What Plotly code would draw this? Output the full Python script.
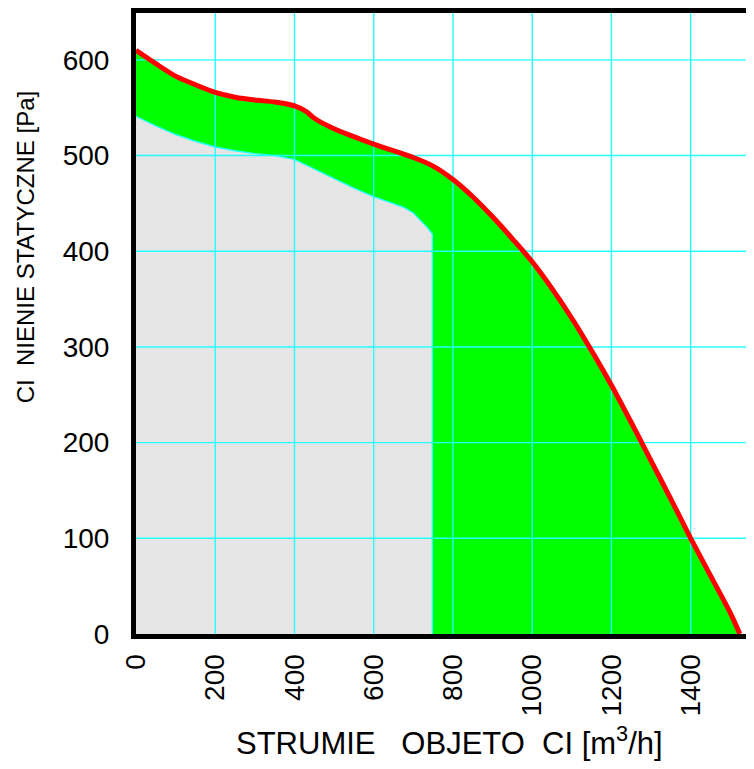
import plotly.graph_objects as go

# Upper curve (red) – maximum characteristic
flow_max = [0, 50, 100, 150, 200, 250, 300, 350, 400, 430, 450, 500, 600, 700, 750, 800, 850,
            900, 950, 1000, 1050, 1100, 1150, 1200, 1250, 1300, 1350, 1400, 1450, 1500, 1524]
press_max = [610, 596, 583, 574, 566, 561, 558, 556, 552, 546, 539, 528, 512, 498, 489, 475, 457,
             436, 413, 389, 361, 330, 296, 260, 221, 181, 141, 100, 61, 22, 0]

# Lower curve – minimum characteristic (grey area)
flow_min = [0, 25, 50, 100, 150, 200, 250, 300, 350, 400, 425, 450, 475, 500, 550, 600, 650, 675, 700, 720, 735, 748, 748]
press_min = [541, 536, 531, 522, 515, 509, 505, 502, 500, 496, 491, 486, 481, 476, 466, 457, 450, 446, 440, 432, 425, 418, 0]

x_ticks = [0, 200, 400, 600, 800, 1000, 1200, 1400]
y_ticks = [0, 100, 200, 300, 400, 500, 600]

X_MAX = 1580
Y_MAX = 649

GRID = "#22ffff"
TICK_FONT = dict(family="Liberation Sans, Arial, sans-serif", size=28, color="black")
XTITLE_FONT = dict(family="Liberation Sans, Arial, sans-serif", size=31, color="black")
YTITLE_FONT = dict(family="Liberation Sans, Arial, sans-serif", size=24, color="black")

fig = go.Figure()

# green working area
fig.add_trace(go.Scatter(x=flow_max, y=press_max, mode="lines",
                         line=dict(color="#00ff00", width=0, shape="spline", smoothing=0.8),
                         fill="tozeroy", fillcolor="#00ff00", hoverinfo="skip", showlegend=False))
# grey area
fig.add_trace(go.Scatter(x=flow_min, y=press_min, mode="lines", line=dict(color="#e5e5e5", width=0),
                         fill="tozeroy", fillcolor="#e5e5e5", hoverinfo="skip", showlegend=False))

# grid lines as traces (above the fills, below the red curve)
gx, gy = [], []
for v in x_ticks[1:]:
    gx += [v, v, None]
    gy += [0, Y_MAX, None]
for v in y_ticks[1:]:
    gx += [0, X_MAX, None]
    gy += [v, v, None]
fig.add_trace(go.Scatter(x=gx, y=gy, mode="lines", line=dict(color=GRID, width=1.4),
                         hoverinfo="skip", showlegend=False))

# cyan edge of grey area
fig.add_trace(go.Scatter(x=flow_min, y=press_min, mode="lines", line=dict(color=GRID, width=1.4),
                         hoverinfo="skip", showlegend=False))

# red characteristic
fig.add_trace(go.Scatter(x=flow_max, y=press_max, mode="lines",
                         line=dict(color="#ff0000", width=5, shape="spline", smoothing=0.8),
                         hoverinfo="skip", showlegend=False))

fig.update_layout(
    width=754, height=769,
    margin=dict(l=128, r=0, t=3, b=143),
    paper_bgcolor="white", plot_bgcolor="white",
    showlegend=False,
    xaxis=dict(range=[0, X_MAX], tickvals=x_ticks, ticktext=[str(v) for v in x_ticks],
               tickangle=-90, tickfont=TICK_FONT, showgrid=False, zeroline=False,
               showline=True, linecolor="black", linewidth=5, mirror=True,
               ticks="", ticklabelstandoff=4, fixedrange=True),
    yaxis=dict(range=[0, Y_MAX], tickvals=y_ticks, ticktext=[str(v) for v in y_ticks],
               tickfont=TICK_FONT, showgrid=False, zeroline=False,
               showline=True, linecolor="black", linewidth=5, mirror=False,
               ticks="", ticklabelstandoff=16, fixedrange=True),
    annotations=[
        dict(text="STRUMIE   OBJETO  CI [m<sup>3</sup>/h]", xref="paper", yref="paper",
             x=0.50, y=-0.172, xanchor="center", yanchor="middle", showarrow=False, font=XTITLE_FONT),
        dict(text="CI  NIENIE STATYCZNE [Pa]", xref="paper", yref="paper",
             x=-0.176, y=0.624, xanchor="center", yanchor="middle", textangle=-90, showarrow=False, font=YTITLE_FONT),
    ],
)

fig.write_html("out.html")
